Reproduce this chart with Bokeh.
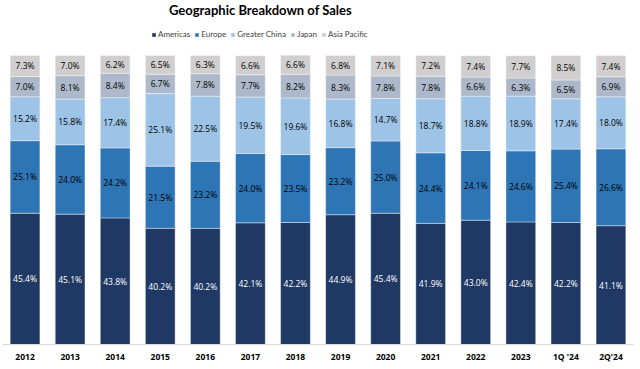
from bokeh.plotting import figure
from bokeh.models import Range1d, FactorRange, Legend, LegendItem, Label, ColumnDataSource
from bokeh.core.properties import value
from bokeh.embed import file_html
from bokeh.resources import INLINE

categories = ["2012", "2013", "2014", "2015", "2016", "2017", "2018", "2019", "2020",
              "2021", "2022", "2023", "1Q '24", "2Q'24"]
americas = [45.4, 45.1, 43.8, 40.2, 40.2, 42.1, 42.2, 44.9, 45.4, 41.9, 43.0, 42.4, 42.2, 41.1]
europe = [25.1, 24.0, 24.2, 21.5, 23.2, 24.0, 23.5, 23.2, 25.0, 24.4, 24.1, 24.6, 25.4, 26.6]
greater_china = [15.2, 15.8, 17.4, 25.1, 22.5, 19.5, 19.6, 16.8, 14.7, 18.7, 18.8, 18.9, 17.4, 18.0]
japan = [7.0, 8.1, 8.4, 6.7, 7.8, 7.7, 8.2, 8.3, 7.8, 7.8, 6.6, 6.3, 6.5, 6.9]
asia_pacific = [7.3, 7.0, 6.2, 6.5, 6.3, 6.6, 6.6, 6.8, 7.1, 7.2, 7.4, 7.7, 8.5, 7.4]

series_names = ["Americas", "Europe", "Greater China", "Japan", "Asia Pacific"]
series_values = [americas, europe, greater_china, japan, asia_pacific]
colors = ["#1F3864", "#2E75B6", "#9DC3E6", "#ADB9CA", "#D0CECE"]
label_colors = ["#FFFFFF", "#000000", "#000000", "#000000", "#000000"]

FONT = "Open Sans"

data = {"cat": categories}
for name, vals in zip(series_names, series_values):
    data[name] = vals
source = ColumnDataSource(data)

p = figure(x_range=FactorRange(*categories, range_padding=0), y_range=Range1d(0, 119.0),
           width=640, height=369, output_backend="svg", toolbar_location=None,
           min_border_left=2, min_border_right=7, min_border_top=0, min_border_bottom=25)

renderers = p.vbar_stack(series_names, x="cat", width=0.66, color=colors, source=source,
                         line_color="white", line_width=0.4)

# data labels
bottoms = [0.0] * len(categories)
for name, vals, lc in zip(series_names, series_values, label_colors):
    mids = [b + v / 2 for b, v in zip(bottoms, vals)]
    labels = [f"{v:.1f}%" for v in vals]
    p.text(x=categories, y=mids, text=labels, text_align="center", text_baseline="middle",
           text_font=value(FONT), text_font_size="8.5px", text_color=lc)
    bottoms = [b + v for b, v in zip(bottoms, vals)]

legend = Legend(items=[LegendItem(label=n, renderers=[r]) for n, r in zip(series_names, renderers)],
                orientation="horizontal", location=(149, 305))
legend.glyph_width = 5
legend.glyph_height = 5
legend.label_standoff = 2
legend.spacing = 4
legend.padding = 0
legend.margin = 0
legend.label_width = 10
legend.label_height = 10
legend.label_text_font = "Lato"
legend.label_text_font_size = "8px"
legend.label_text_color = "#404040"
legend.border_line_color = None
legend.background_fill_alpha = 0
p.add_layout(legend, "center")

title = Label(x=258, y=335, x_units="screen", y_units="screen",
              text="Geographic Breakdown of Sales", text_align="center", text_baseline="middle",
              text_font="Lato", text_font_size="13px",
              text_font_style="bold", text_color="#000000")
p.add_layout(title)

p.yaxis.visible = False
p.xgrid.grid_line_color = None
p.ygrid.grid_line_color = None
p.outline_line_color = None
p.xaxis.axis_line_color = "#D9D9D9"
p.xaxis.major_tick_line_color = None
p.xaxis.minor_tick_line_color = None
p.xaxis.major_tick_out = 0
p.xaxis.major_tick_in = 0
p.xaxis.major_label_text_font = FONT
p.xaxis.major_label_text_font_style = "bold"
p.xaxis.major_label_text_font_size = "8.5px"
p.xaxis.major_label_text_color = "#000000"
p.xaxis.major_label_standoff = 6
p.background_fill_color = "white"

open("out.html", "w").write(file_html(p, INLINE))
